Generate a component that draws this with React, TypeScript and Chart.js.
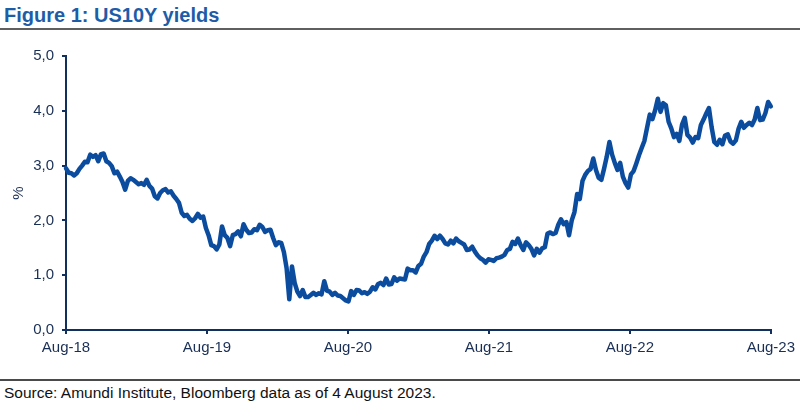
import React, { useEffect, useRef } from 'react';
import { Chart, registerables } from 'chart.js';

Chart.register(...registerables);

const TITLE = 'Figure 1: US10Y yields';
const SOURCE = 'Source: Amundi Institute, Bloomberg data as of 4 August 2023.';
const X_TICK_LABELS = ['Aug-18', 'Aug-19', 'Aug-20', 'Aug-21', 'Aug-22', 'Aug-23'];
const Y_TICKS = [0, 1, 2, 3, 4, 5];
const Y_AXIS_TITLE = '%';
const WEEKS_PER_YEAR = 52.4;

// Weekly US 10Y yield (%)
const yieldAug18toAug19 = [
  2.95, 2.87, 2.86, 2.82, 2.86, 2.94, 3.0, 3.07, 3.06, 3.2,
  3.16, 3.19, 3.08, 3.21, 3.22, 3.08, 3.05, 2.99, 2.86, 2.89,
  2.8, 2.7, 2.56, 2.72, 2.77, 2.74, 2.7, 2.66, 2.68, 2.65,
  2.74, 2.63, 2.58, 2.44, 2.4, 2.5, 2.55, 2.57, 2.51, 2.53,
  2.45, 2.39, 2.32, 2.14, 2.08, 2.1, 2.03, 1.99, 2.04, 2.12,
  2.05, 2.07,
];
const yieldAug19toAug20 = [
  1.86, 1.73, 1.55, 1.53, 1.47, 1.56, 1.89, 1.73, 1.68, 1.53,
  1.73, 1.75, 1.8, 1.71, 1.93, 1.83, 1.77, 1.78, 1.84, 1.82,
  1.92, 1.88, 1.79, 1.82, 1.83, 1.68, 1.55, 1.6, 1.59, 1.42,
  1.13, 0.56, 1.16, 0.86, 0.7, 0.62, 0.73, 0.6, 0.6, 0.64,
  0.68, 0.64, 0.67, 0.65, 0.89, 0.72, 0.7, 0.64, 0.68, 0.63,
  0.62, 0.58,
];
const yieldAug20toAug21 = [
  0.54, 0.52, 0.71, 0.64, 0.73, 0.72, 0.67, 0.69, 0.66, 0.7,
  0.78, 0.74, 0.84, 0.86, 0.82, 0.94, 0.83, 0.84, 0.96, 0.9,
  0.94, 0.93, 0.92, 1.12, 1.09, 1.09, 1.05, 1.17, 1.21, 1.34,
  1.42, 1.57, 1.63, 1.72, 1.66, 1.72, 1.66, 1.58, 1.56, 1.63,
  1.58, 1.67, 1.62, 1.59, 1.56, 1.46, 1.47, 1.52, 1.43, 1.36,
  1.31, 1.28,
];
const yieldAug21toAug22 = [
  1.23, 1.29, 1.28, 1.26, 1.31, 1.32, 1.34, 1.37, 1.46, 1.48,
  1.61, 1.57, 1.67, 1.55, 1.46, 1.6, 1.55, 1.48, 1.36, 1.48,
  1.41, 1.49, 1.51, 1.76, 1.78, 1.75, 1.77, 1.92, 2.02, 1.93,
  1.97, 1.73, 2.0, 2.15, 2.48, 2.39, 2.72, 2.83, 2.9, 2.94,
  3.13, 2.92, 2.78, 2.74, 2.94, 3.16, 3.43, 3.2, 3.05, 2.92,
  3.05, 2.8,
];
const yieldAug22toAug23 = [
  2.68, 2.6, 2.84, 2.9, 3.04, 3.19, 3.32, 3.45, 3.69, 3.93,
  3.85, 4.01, 4.22, 3.98, 4.14, 4.1, 3.8, 3.68, 3.52, 3.58,
  3.45, 3.75, 3.87, 3.56, 3.51, 3.42, 3.52, 3.5, 3.74, 3.84,
  3.95, 4.05, 3.7, 3.43, 3.38, 3.47, 3.39, 3.55, 3.57, 3.44,
  3.4, 3.46, 3.67, 3.8, 3.69, 3.74, 3.78, 3.74, 3.84, 4.05,
  3.83, 3.84, 3.96, 4.16, 4.08,
];

const weeklyYield = [
  ...yieldAug18toAug19,
  ...yieldAug19toAug20,
  ...yieldAug20toAug21,
  ...yieldAug21toAug22,
  ...yieldAug22toAug23,
];

const LINE_COLOR = '#0B4C9E';
const AXIS_COLOR = '#12305E';
const TEXT_COLOR = '#1A2F55';
const FONT_FAMILY = "Arial, 'Liberation Sans', sans-serif";

export default function App() {
  const canvasRef = useRef<HTMLCanvasElement | null>(null);

  useEffect(() => {
    document.body.style.margin = '0';
    const canvas = canvasRef.current;
    if (!canvas) return;
    const points = weeklyYield.map((v, i) => ({ x: i / WEEKS_PER_YEAR, y: v }));
    const tickFont = { family: FONT_FAMILY, size: 15 };
    const chart = new Chart(canvas, {
      type: 'line',
      data: {
        datasets: [
          {
            data: points,
            borderColor: LINE_COLOR,
            borderWidth: 4.5,
            pointRadius: 0,
            tension: 0,
            borderJoinStyle: 'round',
            borderCapStyle: 'round',
            clip: false as any,
          },
        ],
      },
      options: {
        animation: false,
        responsive: false,
        maintainAspectRatio: false,
        layout: { padding: { top: 26, right: 28, bottom: 0, left: 0 } },
        plugins: { legend: { display: false }, tooltip: { enabled: false } },
        scales: {
          x: {
            type: 'linear',
            min: 0,
            max: X_TICK_LABELS.length - 1,
            afterBuildTicks: (s: any) => {
              s.ticks = X_TICK_LABELS.map((_, i) => ({ value: i }));
            },
            ticks: {
              callback: (v: any) => X_TICK_LABELS[Math.round(Number(v))] ?? '',
              font: tickFont,
              color: TEXT_COLOR,
              padding: 5,
              maxRotation: 0,
              autoSkip: false,
            },
            grid: { drawOnChartArea: false, tickLength: 4, color: AXIS_COLOR, lineWidth: 2 },
            border: { color: AXIS_COLOR, width: 2 },
            afterFit: (s: any) => {
              s.height = 45;
            },
          },
          y: {
            type: 'linear',
            min: Y_TICKS[0],
            max: Y_TICKS[Y_TICKS.length - 1],
            afterBuildTicks: (s: any) => {
              s.ticks = Y_TICKS.map((v) => ({ value: v }));
            },
            ticks: {
              callback: (v: any) => Number(v).toFixed(1).replace('.', ','),
              font: tickFont,
              color: TEXT_COLOR,
              padding: 8,
            },
            grid: { drawOnChartArea: false, tickLength: 4, color: AXIS_COLOR, lineWidth: 2 },
            border: { color: AXIS_COLOR, width: 2 },
            title: {
              display: true,
              text: Y_AXIS_TITLE,
              font: { family: FONT_FAMILY, size: 15 },
              color: TEXT_COLOR,
              padding: { top: 10, bottom: 0 },
            },
            afterFit: (s: any) => {
              s.width = 66;
            },
          },
        },
      },
    });
    return () => chart.destroy();
  }, []);

  return (
    <div
      style={{
        position: 'fixed',
        left: 0,
        top: 0,
        width: 800,
        height: 406,
        background: '#ffffff',
        overflow: 'hidden',
        fontFamily: FONT_FAMILY,
      }}
    >
      <div
        style={{
          position: 'absolute',
          left: 4,
          top: 4,
          fontSize: 20,
          lineHeight: '22px',
          fontWeight: 'bold',
          color: '#1D5DA8',
          whiteSpace: 'nowrap',
        }}
      >
        {TITLE}
      </div>
      <div style={{ position: 'absolute', left: 0, top: 28, width: 800, height: 2, background: '#5f5f5f' }} />
      <canvas
        ref={canvasRef}
        width={800}
        height={345}
        style={{ position: 'absolute', left: 0, top: 30, width: 800, height: 345 }}
      />
      <div style={{ position: 'absolute', left: 0, top: 379, width: 800, height: 2, background: '#4a4a4a' }} />
      <div
        style={{
          position: 'absolute',
          left: 4,
          top: 384,
          fontSize: 15.5,
          lineHeight: '18px',
          color: '#111111',
          whiteSpace: 'nowrap',
        }}
      >
        {SOURCE}
      </div>
    </div>
  );
}
